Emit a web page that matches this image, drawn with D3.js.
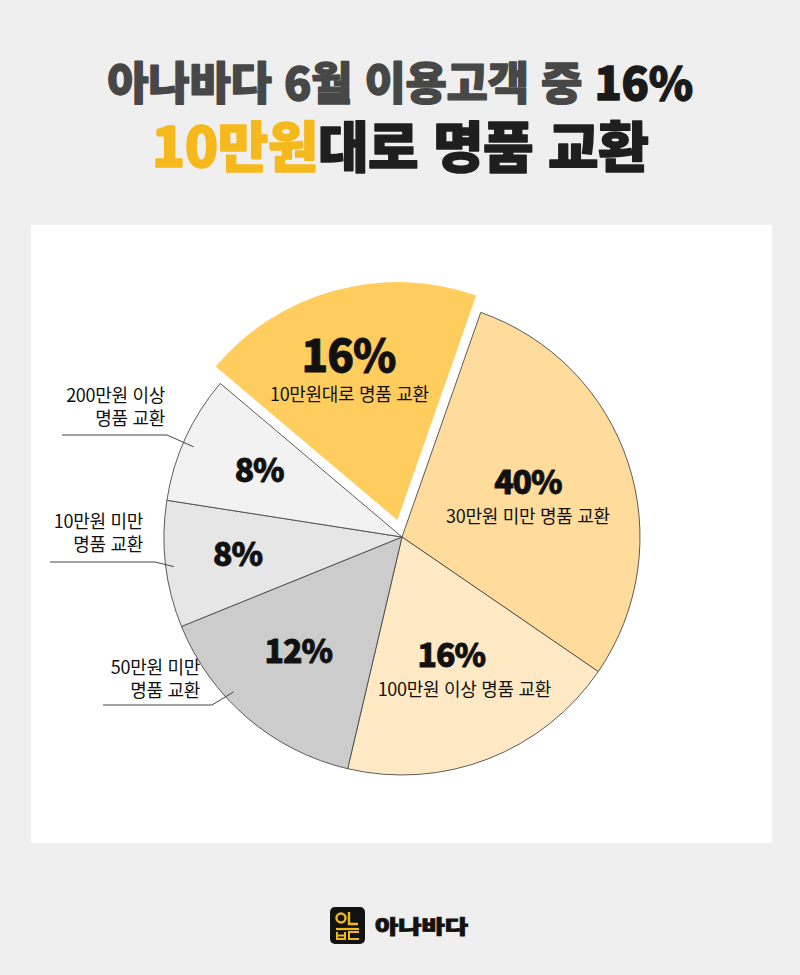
<!DOCTYPE html>
<html lang="ko">
<head>
<meta charset="utf-8">
<script src="https://cdn.jsdelivr.net/npm/d3@7"></script>
<style>
  html, body { margin: 0; padding: 0; background: #efefef; }
  svg { display: block; font-family: "Noto Sans CJK KR", "Noto Sans", sans-serif; }
</style>
</head>
<body>
<svg id="chart" width="800" height="975"></svg>
<script>
// ---------- data ----------
const categories = ["10만원대로 명품 교환", "30만원 미만 명품 교환", "100만원 이상 명품 교환",
                    "50만원 미만 명품 교환", "10만원 미만 명품 교환", "200만원 이상 명품 교환"];
const percentLabels = [16, 40, 16, 12, 8, 8];
// slice sizes as drawn in the picture (share of the full circle, %)
const sliceShare = [19.2, 29.2, 19.1, 15.2, 8.6, 8.7];
const outsideLabelLines = [
  null, null, null,
  ["50만원 미만", "명품 교환"],
  ["10만원 미만", "명품 교환"],
  ["200만원 이상", "명품 교환"]
];
const titleLine1 = [{t: "아나바다 6월 이용고객 중 ", c: "#474747"}, {t: "16%", c: "#1a1a1a"}];
const titleLine2 = [{t: "10만원", c: "#f5b91e"}, {t: "대로 명품 교환", c: "#1e1e1e"}];

// ---------- layout / style ----------
const W = 800, H = 975;
const cx = 402, cy = 537, R = 238;
const startDeg = 310.2;
const explodeIndex = 0, explodeDist = 17.5;
const fills = ["#ffcc5e", "#ffdc9b", "#ffe9c4", "#cccccc", "#e6e6e6", "#f2f2f2"];
const pctSize = [44, 32, 32, 32, 32, 32];
// percentage label anchor (polar: degrees clockwise from top, distance from center)
const labelPolar = [{a: 341.7, r: 156}, {a: 71.2, r: 133}, {a: 159.2, r: 139},
                    {a: 219.5, r: 163}, {a: 260.0, r: 167}, {a: 291.0, r: 153}];
const subDx = [1, 0, 13];
// leader lines for outside labels
const leaders = [null, null, null,
  {textX: 200, y1: 674, lineY: 705, x0: 103, elbowX: 212, endA: 227.4, endR: 229},
  {textX: 143, y1: 528, lineY: 562, x0: 50, elbowX: 155, endA: 262.6, endR: 230},
  {textX: 165, y1: 402, lineY: 435, x0: 62, elbowX: 167, endA: 293.4, endR: 227}];

const rad = d => d * Math.PI / 180;
const polar = (a, r) => [Math.sin(rad(a)) * r, -Math.cos(rad(a)) * r];

const svg = d3.select("#chart");
svg.append("rect").attr("width", W).attr("height", H).attr("fill", "#efefef");
svg.append("rect").attr("x", 31).attr("y", 225).attr("width", 741).attr("height", 618).attr("fill", "#ffffff");

// title (one text element, two lines)
const title = svg.append("text").attr("text-anchor", "middle").attr("font-weight", 900)
  .attr("stroke-linejoin", "round");
const l1 = title.append("tspan").attr("x", W / 2).attr("y", 100).attr("font-size", 45)
  .attr("letter-spacing", -0.3).attr("stroke-width", 1.3);
titleLine1.forEach(s => l1.append("tspan").attr("fill", s.c).attr("stroke", s.c).text(s.t));
const l2 = title.append("tspan").attr("x", W / 2).attr("y", 167).attr("font-size", 55)
  .attr("letter-spacing", -0.5).attr("stroke-width", 1.5);
titleLine2.forEach(s => l2.append("tspan").attr("fill", s.c).attr("stroke", s.c).text(s.t));

// pie
const rows = categories.map((c, i) => ({cat: c, pct: percentLabels[i], share: sliceShare[i], i}));
const pie = d3.pie().value(d => d.share).sort(null)
  .startAngle(rad(startDeg)).endAngle(rad(startDeg + 360));
const arcs = pie(rows);
const arc = d3.arc().innerRadius(0).outerRadius(R);

const g = svg.append("g").attr("transform", `translate(${cx},${cy})`);
const sliceG = g.selectAll("g.slice").data(arcs).join("g").attr("class", "slice")
  .attr("transform", d => {
    if (d.data.i !== explodeIndex) return null;
    const mid = (d.startAngle + d.endAngle) / 2;
    return `translate(${Math.sin(mid) * explodeDist},${-Math.cos(mid) * explodeDist})`;
  });
sliceG.append("path").attr("d", arc)
  .attr("fill", d => fills[d.data.i])
  .attr("stroke", d => d.data.i === explodeIndex ? "none" : "#4a4a4a")
  .attr("stroke-width", 0.9).attr("stroke-linejoin", "round");

// labels inside slices (percentage + optional category line in one text element)
arcs.forEach(d => {
  const i = d.data.i;
  const [lx, ly] = polar(labelPolar[i].a, labelPolar[i].r);
  let ox = 0, oy = 0;
  if (i === explodeIndex) { const mid = (d.startAngle + d.endAngle) / 2; ox = Math.sin(mid) * explodeDist; oy = -Math.cos(mid) * explodeDist; }
  const px = cx + lx + ox, py = cy + ly + oy;
  const t = svg.append("text").attr("text-anchor", "middle").attr("fill", "#111");
  t.append("tspan").attr("x", px).attr("y", py)
    .attr("font-size", pctSize[i]).attr("font-weight", 900)
    .attr("stroke", "#111").attr("stroke-width", 0.8).attr("stroke-linejoin", "round")
    .attr("letter-spacing", -1)
    .text(d.data.pct + "%");
  if (!outsideLabelLines[i]) {
    t.append("tspan").attr("x", px + (subDx[i] || 0)).attr("y", py + 29)
      .attr("font-size", 18).attr("font-weight", 400)
      .attr("letter-spacing", -0.3)
      .text(d.data.cat);
  }
});

// outside labels with leaders
arcs.forEach(d => {
  const i = d.data.i;
  const L = leaders[i];
  if (!L) return;
  const t = svg.append("text").attr("text-anchor", "end").attr("font-size", 18)
    .attr("fill", "#111").attr("letter-spacing", -0.3);
  outsideLabelLines[i].forEach((s, k) => {
    t.append("tspan").attr("x", L.textX).attr("y", L.y1 + k * 23).text(s);
  });
  const [ex, ey] = polar(L.endA, L.endR);
  svg.append("path")
    .attr("d", d3.line()([[L.x0, L.lineY], [L.elbowX, L.lineY], [cx + ex, cy + ey]]))
    .attr("fill", "none").attr("stroke", "#444").attr("stroke-width", 1);
});

// footer logo
const logo = svg.append("g").attr("transform", "translate(330,907)");
logo.append("rect").attr("width", 35).attr("height", 37).attr("rx", 5).attr("fill", "#121212");
const yel = "#f2b718";
logo.append("circle").attr("cx", 11).attr("cy", 11).attr("r", 4.5).attr("fill", "none").attr("stroke", yel).attr("stroke-width", 2.4);
logo.append("path").attr("d", "M19,5 V17 H28").attr("fill", "none").attr("stroke", yel).attr("stroke-width", 2.4);
logo.append("path").attr("d", "M6,22 H29").attr("fill", "none").attr("stroke", yel).attr("stroke-width", 2.2);
logo.append("path").attr("d", "M7,25 V32 H15 V25 M7,28.5 H15").attr("fill", "none").attr("stroke", yel).attr("stroke-width", 2);
logo.append("path").attr("d", "M29,25 H19 V32 H29").attr("fill", "none").attr("stroke", yel).attr("stroke-width", 2);
svg.append("text").attr("x", 375).attr("y", 934).attr("font-size", 19).attr("font-weight", 900)
  .attr("fill", "#121212").attr("stroke", "#121212").attr("stroke-width", 0.8)
  .attr("textLength", 93).attr("lengthAdjust", "spacingAndGlyphs").text("아나바다");
</script>
</body>
</html>
